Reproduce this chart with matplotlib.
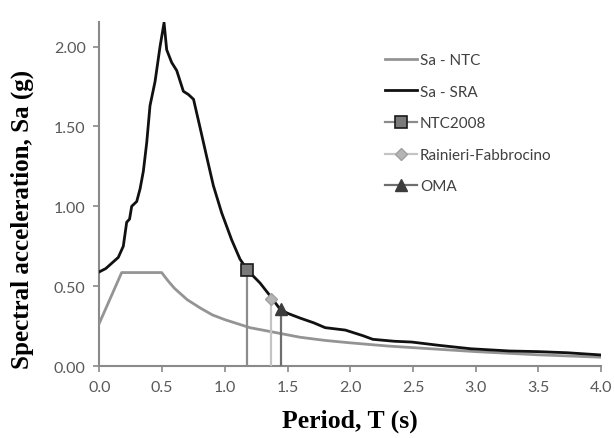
import matplotlib
matplotlib.use('Agg')
import matplotlib.pyplot as plt

# spectra
t_sra = [0.00, 0.05, 0.10, 0.15, 0.19, 0.217, 0.24, 0.257, 0.297, 0.324, 0.35,
         0.377, 0.403, 0.443, 0.483, 0.515, 0.536, 0.576, 0.616, 0.669, 0.709,
         0.75, 0.80, 0.855, 0.908, 0.974, 1.054, 1.12, 1.18, 1.28, 1.36, 1.44,
         1.50, 1.60, 1.71, 1.80, 1.96, 2.10, 2.18, 2.35, 2.49, 2.70, 2.96, 3.27,
         3.50, 3.73, 4.00]
sa_sra = [0.59, 0.61, 0.645, 0.68, 0.75, 0.90, 0.92, 1.00, 1.03, 1.11, 1.22,
          1.40, 1.63, 1.78, 2.00, 2.15, 1.98, 1.90, 1.85, 1.72, 1.70,
          1.67, 1.50, 1.31, 1.13, 0.96, 0.79, 0.67, 0.60, 0.52, 0.44, 0.356,
          0.33, 0.30, 0.27, 0.24, 0.225, 0.19, 0.167, 0.155, 0.15, 0.13, 0.108,
          0.094, 0.09, 0.083, 0.069]

t_ntc = [0.0, 0.177, 0.496, 0.55, 0.6, 0.7, 0.8, 0.9, 1.0, 1.2, 1.4, 1.6,
         1.8, 2.0, 2.3, 2.6, 3.0, 3.5, 4.0]
sa_ntc = [0.27, 0.585, 0.585, 0.53, 0.485, 0.415, 0.365, 0.32, 0.29, 0.24,
          0.21, 0.18, 0.16, 0.145, 0.125, 0.11, 0.09, 0.07, 0.055]

# fundamental period estimates
t_ntc2008 = 1.18
sa_ntc2008 = 0.60
t_rainieri = 1.37
sa_rainieri = 0.42
t_oma = 1.445
sa_oma = 0.356

x_ticks = [0.0, 0.5, 1.0, 1.5, 2.0, 2.5, 3.0, 3.5, 4.0]
y_ticks = [0.0, 0.5, 1.0, 1.5, 2.0]

axis_grey = '#8a8a8a'
text_grey = '#595959'

fig = plt.figure(figsize=(6.14, 4.39), dpi=100)
ax = fig.add_axes([0.162, 0.164, 0.817, 0.784])

ax.plot(t_ntc, sa_ntc, color='#949494', lw=2.0, label='Sa - NTC', zorder=3)
ax.plot(t_sra, sa_sra, color='#111111', lw=2.0, label='Sa - SRA', zorder=4)
ax.plot([t_ntc2008, t_ntc2008], [0, sa_ntc2008], color='#8c8c8c', lw=1.6,
        marker='s', markevery=[1], ms=8, mfc='#7a7a7a', mec='#1a1a1a', mew=1.2,
        label='NTC2008', zorder=5)
ax.plot([t_rainieri, t_rainieri], [0, sa_rainieri], color='#c4c4c4', lw=1.6,
        marker='D', markevery=[1], ms=6, mfc='#b4b4b4', mec='#a0a0a0', mew=1,
        label='Rainieri-Fabbrocino', zorder=5)
ax.plot([t_oma, t_oma], [0, sa_oma], color='#6e6e6e', lw=1.6,
        marker='^', markevery=[1], ms=8, mfc='#3c3c3c', mec='#3c3c3c',
        label='OMA', zorder=5)

ax.set_xlim(0, 4.0)
ax.set_ylim(0, 2.155)
ax.set_xticks(x_ticks)
ax.set_xticklabels(['%.1f' % v for v in x_ticks])
ax.set_yticks(y_ticks)
ax.set_yticklabels(['%.2f' % v for v in y_ticks])

for side in ['top', 'right']:
    ax.spines[side].set_visible(False)
for side in ['left', 'bottom']:
    ax.spines[side].set_color(axis_grey)
    ax.spines[side].set_linewidth(1.5)
ax.tick_params(axis='both', colors=axis_grey, labelcolor=text_grey,
               labelsize=11.5, length=4, width=1.2, direction='out', pad=6)
for lbl in ax.get_xticklabels() + ax.get_yticklabels():
    lbl.set_family('Lato')

ax.set_xlabel('Period, T (s)', family='Liberation Serif', fontweight='bold',
              fontsize=18.5)
ax.set_ylabel('Spectral acceleration, Sa (g)', family='Liberation Serif',
              fontweight='bold', fontsize=18)
ax.xaxis.set_label_coords(0.5, -0.125)
ax.yaxis.set_label_coords(-0.13, 0.43)

leg = ax.legend(loc='upper left', bbox_to_anchor=(0.569, 0.909), frameon=False,
                prop={'family': 'Lato', 'size': 11}, labelspacing=1.15,
                handlelength=2.1, handletextpad=0.2, borderpad=0,
                borderaxespad=0, numpoints=1)
for txt in leg.get_texts():
    txt.set_color('#404040')

fig.savefig('out.png', dpi=100, facecolor='white')
